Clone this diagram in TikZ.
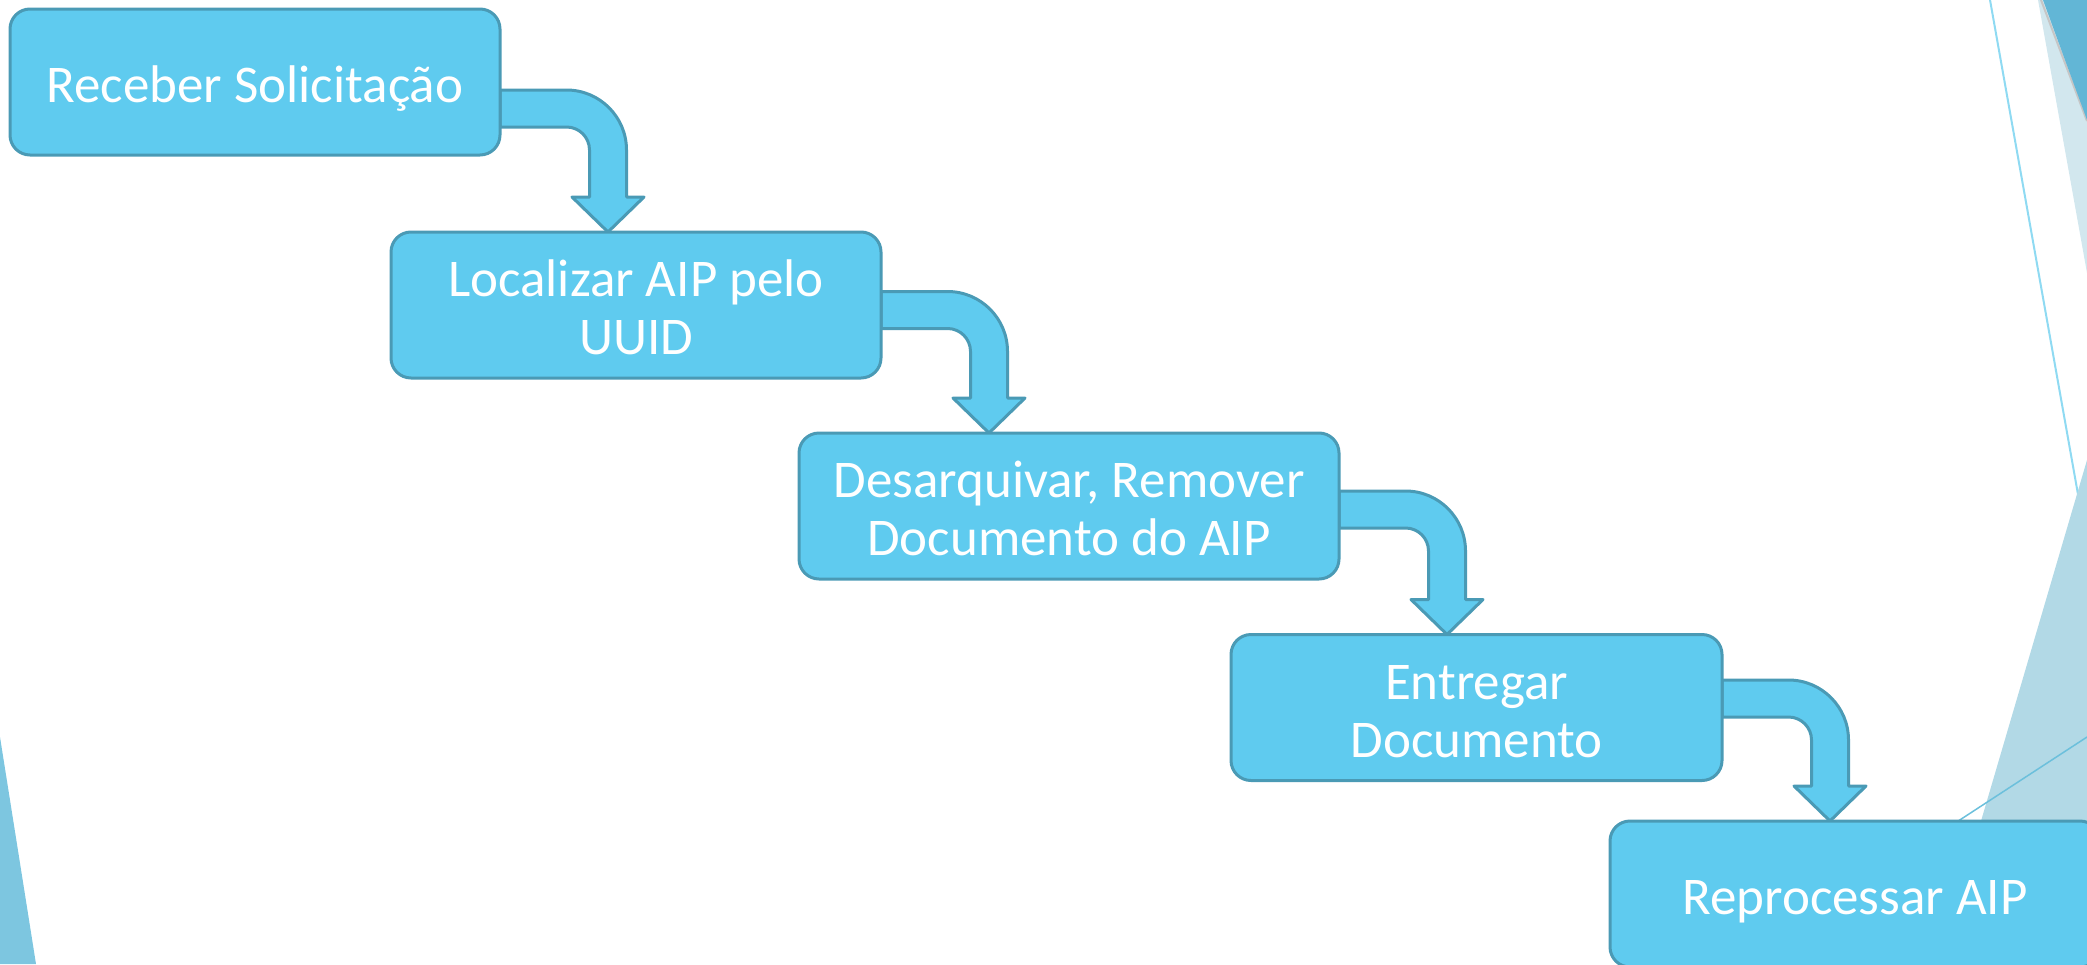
\documentclass[tikz,border=0pt]{standalone}
\usepackage{fontspec}
\setmainfont{Carlito}
\usetikzlibrary{calc}
\pgfdeclarelayer{deco}
\pgfdeclarelayer{conn}
\pgfsetlayers{deco,conn,main}
\definecolor{boxfill}{HTML}{5FCBEF}
\definecolor{boxline}{HTML}{4A9AB5}
\definecolor{decoDark}{HTML}{62B6D6}
\definecolor{decoPale}{HTML}{D2E7EE}
\definecolor{decoMid}{HTML}{B2D9E6}
\definecolor{decoLine}{HTML}{8FDAF2}
\definecolor{decoLineB}{HTML}{6CC0DC}
\definecolor{decoLeft}{HTML}{7DC6E0}
\tikzset{
  stepbox/.style={draw=boxline, fill=boxfill, line width=3pt, rounded corners=20pt,
    minimum height=146pt, outer sep=0pt, inner sep=0pt, text=white, align=center,
    font=\fontsize{53}{58}\selectfont},
  bentarrow/.style={draw=boxline, fill=boxfill, line width=3pt, line join=round},
}
\newcommand\steptext[1]{\raisebox{-9pt}[\height][\depth]{\begin{tabular}{@{}c@{}}#1\end{tabular}}}
\newcommand\bendconn[3]{%
  \draw[bentarrow] let \p1=(#1.east), \p2=(#2.north), \n1={\y1-(#3)} in
    (\x1,\n1) -- (\x1+108pt-41.5pt,\n1)
    arc[start angle=90,end angle=0,radius=60pt]
    -- (\x1+126.5pt,\y2+35pt) -- (\x1+144pt,\y2+35pt) -- (\x1+108pt,\y2)
    -- (\x1+72pt,\y2+35pt) -- (\x1+89.5pt,\y2+35pt) -- (\x1+89.5pt,\n1-60)
    arc[start angle=0,end angle=90,radius=23pt]
    -- (\x1,\n1-37) -- cycle;}
\begin{document}
\begin{tikzpicture}[x=1pt,y=1pt]
\useasboundingbox (0,0) rectangle (2087,-964);
% background decorations
\begin{pgfonlayer}{deco}
\fill[decoPale] (2038,0) -- (2087,0) -- (2087,-273) -- cycle;
\draw[gray!45, line width=2pt] (2041,0) -- (2087,-121);
\fill[decoDark] (2043,0) -- (2087,0) -- (2087,-120) -- cycle;
\draw[decoLine, line width=2pt] (1990,0) -- (2087,-545);
\fill[decoMid] (2087,-460) -- (1939,-964) -- (2087,-964) -- cycle;
\draw[decoLineB, line width=1.5pt] (2087,-737) -- (1880,-872);
\fill[decoLeft] (0,-737) -- (36,-964) -- (0,-964) -- cycle;
\end{pgfonlayer}
% steps
\node[stepbox, minimum width=490pt] (b1) at (255,-82) {\steptext{Receber Solicitação}};
\node[stepbox, minimum width=490pt] (b2) at (636,-305) {\steptext{Localizar AIP pelo\\UUID}};
\node[stepbox, minimum width=540pt] (b3) at (1069,-506) {\steptext{Desarquivar, Remover\\Documento do AIP}};
\node[stepbox, minimum width=491pt] (b4) at (1476.5,-707.5) {\steptext{Entregar\\Documento}};
\node[stepbox, minimum width=490pt] (b5) at (1855,-894) {\steptext{Reprocessar AIP}};
% connectors, behind the steps
\begin{pgfonlayer}{conn}
\bendconn{b1}{b2}{8}
\bendconn{b2}{b3}{-13.5}
\bendconn{b3}{b4}{-15}
\bendconn{b4}{b5}{-27.5}
\end{pgfonlayer}
\end{tikzpicture}
\end{document}
